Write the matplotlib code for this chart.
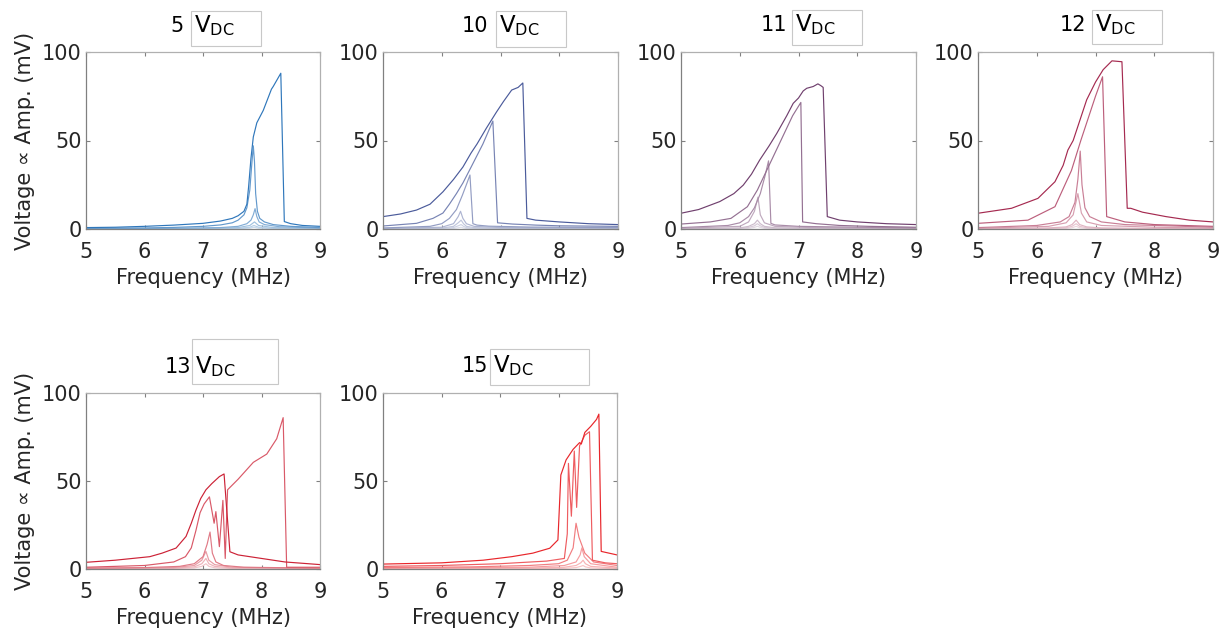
import matplotlib
matplotlib.use("Agg")
import matplotlib.pyplot as plt
from matplotlib.patches import Rectangle
from matplotlib.colors import to_rgb

plt.rcParams['font.family'] = ['DejaVu Sans']
plt.rcParams['mathtext.default'] = 'regular'

# ---------------------------------------------------------------------------
# Frequency sweeps (MHz) and detected amplitude (mV), one list of curves per
# DC bias.  Within each bias the curves go from the strongest drive to the
# weakest.
# ---------------------------------------------------------------------------
bias_labels = ['5', '10', '11', '12', '13', '15']
x_ticks = [5, 6, 7, 8, 9]
y_ticks = [0, 50, 100]

vdc5_curves = [
    ([5.0, 5.5, 6.0, 6.5, 7.0, 7.3, 7.5, 7.6, 7.7, 7.75, 7.78, 7.82, 7.86, 7.92, 8.03, 8.17, 8.2, 8.33, 8.39, 8.5, 8.7, 9.0],
     [0.8, 1.0, 1.5, 2.2, 3.2, 4.5, 6.0, 7.5, 10, 14, 24, 40, 52, 60, 67, 79, 80.5, 88, 4.2, 3.0, 2.0, 1.5]),
    ([5.0, 6.0, 6.5, 7.0, 7.3, 7.5, 7.6, 7.7, 7.75, 7.8, 7.83, 7.86, 7.88, 7.9, 7.93, 7.97, 8.05, 8.2, 8.5, 9.0],
     [0.4, 0.6, 0.9, 1.5, 2.3, 3.5, 5, 8, 12, 22, 35, 47, 38, 20, 10, 6, 4, 2.5, 1.5, 0.8]),
    ([5.0, 6.5, 7.3, 7.6, 7.75, 7.82, 7.86, 7.89, 7.92, 7.96, 8.05, 8.3, 9.0],
     [0.2, 0.4, 0.8, 1.5, 3, 5, 8, 11.5, 7, 4, 2.5, 1.3, 0.5]),
    ([5.0, 7.0, 7.6, 7.8, 7.88, 7.95, 8.2, 9.0],
     [0.1, 0.4, 0.8, 2, 4, 2, 0.8, 0.3]),
    ([5.0, 7.0, 7.6, 7.8, 7.87, 7.95, 8.2, 9.0],
     [0.05, 0.2, 0.4, 1, 2, 1, 0.4, 0.15]),
    ([5.0, 7.0, 7.6, 7.8, 7.87, 7.95, 8.2, 9.0],
     [0.02, 0.1, 0.2, 0.5, 1, 0.5, 0.2, 0.08]),
]

vdc10_curves = [
    ([5.0, 5.3, 5.57, 5.8, 6.02, 6.2, 6.36, 6.5, 6.6, 6.76, 6.93, 7.05, 7.19, 7.3, 7.38, 7.45, 7.6, 8.0, 8.5, 9.0],
     [7, 8.5, 10.7, 14, 21, 28, 35, 43, 48, 57, 66, 72, 78.5, 80, 82.5, 6, 5, 4, 3, 2.5]),
    ([5.0, 5.57, 5.85, 6.02, 6.13, 6.25, 6.36, 6.5, 6.7, 6.87, 6.95, 7.2, 7.6, 8.0, 9.0],
     [1.7, 3.2, 6, 9, 14, 20, 26, 35, 48, 61, 3.5, 2.8, 2.2, 1.8, 1.5]),
    ([5.0, 5.8, 6.0, 6.13, 6.25, 6.35, 6.43, 6.48, 6.53, 6.6, 6.8, 7.5, 9.0],
     [0.6, 1.5, 3, 6, 11, 19, 26, 30.5, 3, 2.2, 1.6, 1.1, 0.8]),
    ([5.0, 6.0, 6.2, 6.28, 6.32, 6.36, 6.42, 6.55, 7.0, 9.0],
     [0.3, 1, 3, 7, 10, 6, 3, 1.5, 0.8, 0.4]),
    ([5.0, 6.0, 6.2, 6.28, 6.33, 6.37, 6.42, 6.55, 7.0, 9.0],
     [0.15, 0.5, 1.5, 3.5, 5, 3, 1.5, 0.8, 0.4, 0.2]),
    ([5.0, 6.0, 6.2, 6.28, 6.33, 6.37, 6.42, 6.55, 7.0, 9.0],
     [0.08, 0.25, 0.8, 1.8, 2.5, 1.5, 0.8, 0.4, 0.2, 0.1]),
    ([5.0, 6.0, 6.2, 6.28, 6.33, 6.37, 6.42, 6.55, 7.0, 9.0],
     [0.03, 0.1, 0.3, 0.7, 1, 0.6, 0.3, 0.15, 0.08, 0.04]),
]

vdc11_curves = [
    ([5.0, 5.3, 5.66, 5.9, 6.06, 6.2, 6.34, 6.5, 6.63, 6.8, 6.91, 7.0, 7.08, 7.14, 7.25, 7.33, 7.38, 7.42, 7.49, 7.7, 8.0, 8.5, 9.0],
     [8.9, 11, 15.5, 20, 24.8, 31, 39, 47, 54, 64, 71, 74, 78, 79.5, 80.5, 82, 81, 80, 7, 5, 4, 3, 2.5]),
    ([5.0, 5.5, 5.85, 6.13, 6.3, 6.5, 6.7, 6.9, 7.04, 7.07, 7.3, 7.7, 8.2, 9.0],
     [2.8, 4, 6, 12.6, 22, 36, 50, 64, 71.5, 4, 3, 2, 1.5, 1]),
    ([5.0, 5.8, 6.0, 6.15, 6.25, 6.35, 6.43, 6.49, 6.53, 6.6, 7.0, 8.0, 9.0],
     [0.8, 2, 3.5, 7, 12, 20, 30, 38.5, 3.2, 2.3, 1.5, 1, 0.6]),
    ([5.0, 6.0, 6.15, 6.25, 6.31, 6.35, 6.42, 6.6, 7.2, 9.0],
     [0.4, 1.5, 4, 10, 18, 8, 3.5, 1.5, 0.8, 0.3]),
    ([5.0, 6.0, 6.15, 6.25, 6.3, 6.35, 6.42, 6.6, 7.2, 9.0],
     [0.15, 0.6, 1.5, 3, 5, 3, 1.5, 0.7, 0.35, 0.15]),
    ([5.0, 6.0, 6.15, 6.25, 6.3, 6.35, 6.42, 6.6, 7.2, 9.0],
     [0.08, 0.35, 0.9, 1.8, 3, 1.8, 0.9, 0.4, 0.2, 0.08]),
    ([5.0, 6.0, 6.15, 6.25, 6.3, 6.35, 6.42, 6.6, 7.2, 9.0],
     [0.04, 0.15, 0.4, 0.9, 1.5, 0.9, 0.4, 0.2, 0.1, 0.04]),
]

vdc12_curves = [
    ([5.0, 5.57, 6.02, 6.31, 6.45, 6.53, 6.62, 6.85, 7.0, 7.13, 7.28, 7.45, 7.54, 7.6, 7.8, 8.2, 8.6, 9.0],
     [8.9, 11.7, 17.3, 26.7, 36, 44.6, 50, 73, 83, 90, 95, 94.5, 11.7, 11.7, 9.5, 7, 5, 4]),
    ([5.0, 5.85, 6.31, 6.59, 6.75, 6.9, 7.0, 7.12, 7.19, 7.5, 8.0, 9.0],
     [3.2, 5, 12.6, 33, 50, 65, 75, 86, 7, 4, 2.5, 1.5]),
    ([5.0, 6.0, 6.4, 6.55, 6.65, 6.7, 6.74, 6.77, 6.82, 6.9, 7.1, 7.5, 9.0],
     [0.8, 2, 4, 7, 15, 28, 44, 25, 12, 7, 4, 2.5, 1]),
    ([5.0, 6.2, 6.5, 6.62, 6.7, 6.76, 6.85, 7.1, 8.0, 9.0],
     [0.4, 1.5, 3.5, 8, 20, 9, 4, 2, 1, 0.5]),
    ([5.0, 6.2, 6.5, 6.6, 6.67, 6.73, 6.85, 7.1, 8.0, 9.0],
     [0.2, 0.6, 1.2, 2.5, 5, 2.5, 1.2, 0.6, 0.3, 0.15]),
    ([5.0, 6.2, 6.5, 6.6, 6.67, 6.73, 6.85, 7.1, 8.0, 9.0],
     [0.1, 0.35, 0.7, 1.5, 3, 1.5, 0.7, 0.35, 0.15, 0.08]),
    ([5.0, 6.2, 6.5, 6.6, 6.67, 6.73, 6.85, 7.1, 8.0, 9.0],
     [0.05, 0.15, 0.35, 0.7, 1.5, 0.7, 0.35, 0.15, 0.08, 0.04]),
]

vdc13_curves = [
    ([5.0, 5.5, 6.09, 6.3, 6.54, 6.71, 6.8, 6.88, 6.96, 7.05, 7.15, 7.28, 7.36, 7.46, 7.6, 8.0, 8.4, 9.0],
     [3.8, 5, 7, 9, 11.9, 18.5, 26, 33.5, 40, 45, 48.5, 52.5, 54, 9.8, 8, 6, 4, 2.5]),
    ([5.0, 6.0, 6.5, 6.7, 6.8, 6.88, 6.95, 7.02, 7.11, 7.19, 7.22, 7.28, 7.34, 7.38, 7.42, 7.6, 7.86, 8.09, 8.26, 8.37, 8.43, 9.0],
     [1, 2, 4, 7, 12, 22, 32, 37, 41, 26, 32.6, 12.7, 39, 6, 45, 51, 60.6, 65.3, 74, 86, 1, 1]),
    ([5.0, 6.0, 6.6, 6.85, 7.0, 7.07, 7.12, 7.16, 7.22, 7.35, 7.7, 9.0],
     [0.5, 0.8, 1.5, 3, 7, 14, 21, 9, 4, 2, 1, 0.5]),
    ([5.0, 6.5, 6.85, 6.98, 7.05, 7.1, 7.2, 7.5, 9.0],
     [0.3, 0.8, 2, 5, 10, 5, 2.5, 1, 0.3]),
    ([5.0, 6.5, 6.85, 6.98, 7.05, 7.1, 7.2, 7.5, 9.0],
     [0.15, 0.5, 1.2, 3, 6, 3, 1.5, 0.6, 0.2]),
    ([5.0, 6.5, 6.85, 6.98, 7.05, 7.1, 7.2, 7.5, 9.0],
     [0.08, 0.25, 0.6, 1.5, 3, 1.5, 0.7, 0.3, 0.1]),
]

vdc15_curves = [
    ([5.0, 6.0, 6.71, 7.2, 7.56, 7.85, 7.99, 8.04, 8.13, 8.25, 8.36, 8.39, 8.45, 8.55, 8.65, 8.69, 8.73, 9.0],
     [2.8, 3.5, 5, 7, 9, 11.8, 16.5, 53.4, 62, 68, 71.8, 71, 77.6, 81, 85, 88, 10, 8]),
    ([5.0, 6.0, 7.0, 7.8, 8.1, 8.15, 8.17, 8.22, 8.27, 8.31, 8.36, 8.45, 8.53, 8.58, 8.8, 9.0],
     [1.5, 2, 3, 4.5, 6, 20, 60, 30, 67, 35, 70, 76, 78, 5, 3.5, 3]),
    ([5.0, 6.5, 7.5, 8.0, 8.15, 8.25, 8.3, 8.35, 8.45, 8.6, 9.0],
     [0.8, 1.2, 2, 3, 5, 12, 26, 18, 9, 4, 2]),
    ([5.0, 7.5, 8.1, 8.3, 8.37, 8.4, 8.44, 8.55, 9.0],
     [0.4, 1, 2, 4, 8, 12, 7, 3, 1]),
    ([5.0, 7.5, 8.1, 8.3, 8.38, 8.42, 8.46, 8.55, 9.0],
     [0.2, 0.5, 1, 2, 3.5, 5, 3, 1.5, 0.5]),
    ([5.0, 7.5, 8.1, 8.3, 8.38, 8.42, 8.46, 8.55, 9.0],
     [0.1, 0.2, 0.4, 0.8, 1.5, 2, 1.2, 0.6, 0.2]),
]

panel_curves = [vdc5_curves, vdc10_curves, vdc11_curves,
                vdc12_curves, vdc13_curves, vdc15_curves]
panel_colors = ['#2f77bb', '#4b5b9b', '#70406e', '#a52a50', '#cc2236', '#e8262b']
shade_levels = [1.0, 0.75, 0.6, 0.45, 0.35, 0.27, 0.2]

# ---------------------------------------------------------------------------
# Layout in pixels of a 1228 x 634 canvas:
# axes (left, top, right, bottom), right edge of the bias number,
# title box (left, top, right, bottom) and text baseline.
# ---------------------------------------------------------------------------
W, H = 1228, 634
axes_px = [(86, 52, 320, 229), (383, 52, 618, 229), (681, 52, 916, 229),
           (978, 52, 1213, 229), (86, 393, 320, 569), (383, 393, 617, 569)]
number_right_px = [184, 488, 787, 1086, 191, 488]
box_px = [(191, 11, 261, 46), (496, 11, 566, 47), (792, 10, 862, 45),
          (1092, 10, 1162, 44), (192, 339, 278, 384), (490, 349, 589, 385)]
baseline_px = [32, 32, 31, 31, 373, 372]


def fx(x):
    return x / W


def fy(y):
    return 1 - y / H


def shade(color, level):
    r, g, b = to_rgb(color)
    return (1 - level * (1 - r), 1 - level * (1 - g), 1 - level * (1 - b))


fig = plt.figure(figsize=(W / 100, H / 100), dpi=100)
fig.patch.set_facecolor('white')

text_color = '#262626'
font_size = 15

for i, curves in enumerate(panel_curves):
    l, t, r, b = axes_px[i]
    ax = fig.add_axes([fx(l), fy(b), (r - l) / W, (b - t) / H])

    # weakest drive first so the strong sweeps sit on top
    for k in reversed(range(len(curves))):
        f, a = curves[k]
        ax.plot(f, a, color=shade(panel_colors[i], shade_levels[k]),
                lw=0.85, solid_joinstyle='round')

    ax.set_xlim(5, 9)
    ax.set_ylim(0, 100)
    ax.set_xticks(x_ticks)
    ax.set_yticks(y_ticks)
    ax.tick_params(direction='in', length=3, width=0.8, colors='#808080',
                   labelcolor=text_color, labelsize=font_size,
                   top=True, right=True)
    ax.tick_params(axis='x', pad=9.5)
    ax.tick_params(axis='y', pad=3)
    for side in ('left', 'bottom'):
        ax.spines[side].set_color('#808080')
        ax.spines[side].set_linewidth(0.9)
    for side in ('top', 'right'):
        ax.spines[side].set_color('#b0b0b0')
        ax.spines[side].set_linewidth(0.9)

    ax.set_xlabel('Frequency (MHz)', fontsize=font_size, color=text_color,
                  labelpad=4)
    if i in (0, 4):
        ax.set_ylabel('Voltage \u221d Amp. (mV)', fontsize=font_size,
                      color=text_color, labelpad=5)

    # bias value followed by the boxed unit
    bl, bt, br, bb = box_px[i]
    fig.add_artist(Rectangle((fx(bl), fy(bb)), (br - bl) / W, (bb - bt) / H,
                             transform=fig.transFigure, facecolor='white',
                             edgecolor='#c8c8c8', lw=0.8))
    fig.text(fx(number_right_px[i]), fy(baseline_px[i]), bias_labels[i],
             ha='right', va='baseline', fontsize=font_size, color='black')
    fig.text(fx(bl + 3), fy(baseline_px[i]), r'V$_{\rm DC}$',
             ha='left', va='baseline', fontsize=16.5, color='black')

fig.savefig('out.png', dpi=100, facecolor='white')
